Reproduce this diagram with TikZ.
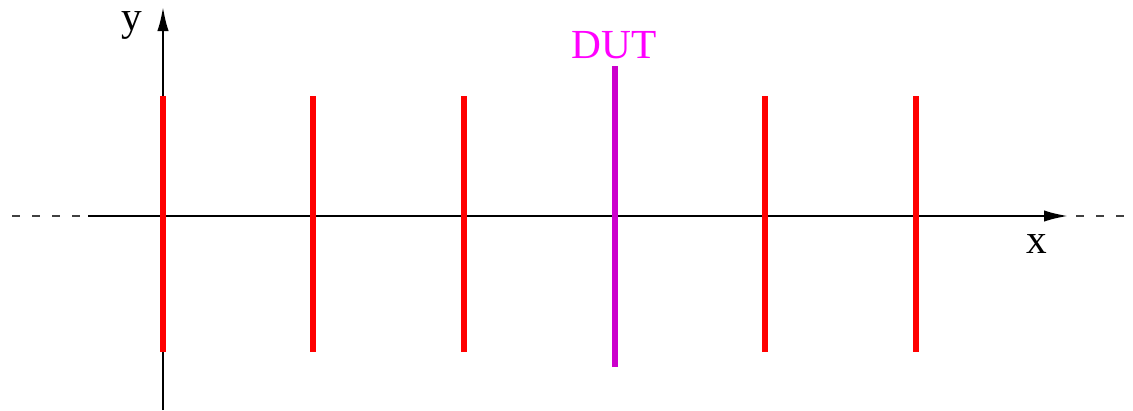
\documentclass[tikz,border=0pt]{standalone}
\usepackage{fontspec}
\setmainfont{Liberation Serif}
\usetikzlibrary{arrows.meta}
\definecolor{barred}{RGB}{255,0,0}
\definecolor{dutbar}{RGB}{204,0,204}
\definecolor{duttext}{RGB}{255,0,255}
\begin{document}
\begin{tikzpicture}[x=0.75pt,y=-0.75pt,
  axis/.style={line width=1.6pt,-{Latex[length=18pt,width=8.5pt]}},
  dashaxis/.style={line width=1pt,dash pattern=on 6pt off 9pt,black!75},
  planebar/.style={line width=5pt,barred},
  dutplane/.style={line width=5.2pt,dutbar},
  lbl/.style={inner sep=0,anchor=base,font=\fontsize{31}{33}\selectfont}]
\useasboundingbox (0,0) rectangle (1133,411);
% axis ends
\coordinate (xl0) at (12,216);
\coordinate (xl1) at (88,216);
\coordinate (xr0) at (1076,216);
\coordinate (xr1) at (1130,216);
\coordinate (xend) at (1068,216);
\coordinate (ybot) at (163,410);
\coordinate (ytop) at (163,7);
\draw[dashaxis] (xl0) -- (xl1);
\draw[dashaxis] (xr0) -- (xr1);
\draw[axis] (xl1) -- (xend);
\draw[axis] (ybot) -- (ytop);
% planes
\foreach \n/\x in {p1/163,p2/313,p3/464,p5/765,p6/916}{
  \coordinate (\n t) at (\x,96);
  \coordinate (\n b) at (\x,352);
  \draw[planebar] (\n t) -- (\n b);
}
\coordinate (dutt) at (615,66);
\coordinate (dutb) at (615,367);
\draw[dutplane] (dutt) -- (dutb);
% labels
\node[lbl] (ylab) at (132,30) {y};
\node[lbl] (xlab) at (1037,253) {x};
\node[lbl,text=duttext] (dut) at (614,58) {DUT};
\end{tikzpicture}
\end{document}
